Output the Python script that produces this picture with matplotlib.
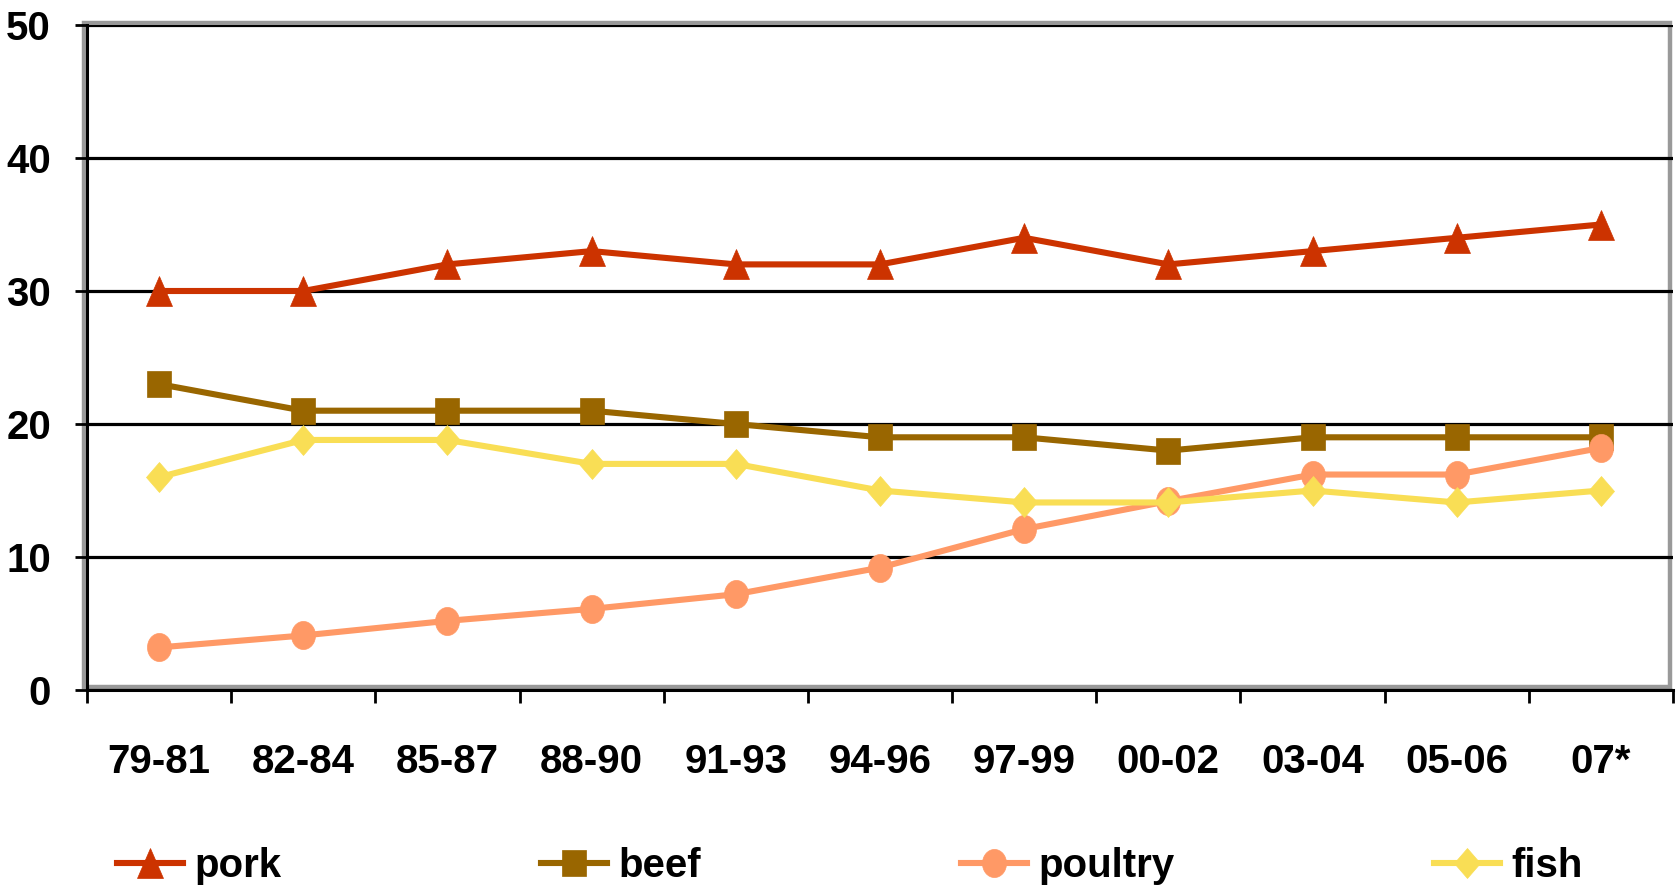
import matplotlib
matplotlib.use("Agg")
import matplotlib.pyplot as plt
from matplotlib.markers import MarkerStyle
from matplotlib.transforms import Affine2D
from matplotlib.patches import Rectangle

# Per-capita consumption by period (kg)
periods = ["79-81", "82-84", "85-87", "88-90", "91-93", "94-96",
           "97-99", "00-02", "03-04", "05-06", "07*"]
pork = [30, 30, 32, 33, 32, 32, 34, 32, 33, 34, 35]
beef = [23, 21, 21, 21, 20, 19, 19, 18, 19, 19, 19]
poultry = [3.2, 4.1, 5.2, 6.1, 7.2, 9.2, 12.1, 14.2, 16.2, 16.2, 18.2]
fish = [16, 18.8, 18.8, 17, 17, 15, 14.1, 14.1, 15, 14.1, 15]
series_names = ["pork", "beef", "poultry", "fish"]
y_ticks = [0, 10, 20, 30, 40, 50]

plt.rcParams["font.family"] = ["Liberation Sans", "DejaVu Sans"]
plt.rcParams["font.weight"] = "bold"
FS = 29

fig = plt.figure(figsize=(16.76, 8.90), dpi=100)
W, H = 1676, 890
ax = fig.add_axes([87 / W, 1 - 690 / H, (1673 - 87) / W, (690 - 25) / H])

x = list(range(len(periods)))


def mk(shape, sy):
    return MarkerStyle(shape, transform=Affine2D().scale(1.0, sy))


styles = [
    (pork, "#CC3300", mk("^", 1.19), 18.7),
    (beef, "#996600", mk("s", 1.12), 17.3),
    (poultry, "#FF9966", mk("o", 1.17), 17.3),
    (fish, "#F9DE55", mk("D", 1.19), 13.2),
]

for (vals, col, m, ms), name in zip(styles, series_names):
    ax.plot(x, vals, color=col, lw=4.4, marker=m, markersize=ms,
            markerfacecolor=col, markeredgecolor=col, markeredgewidth=0.5,
            label=name, zorder=3, clip_on=False)

ax.set_xlim(-0.5, 10.5)
ax.set_ylim(0, 50)
ax.set_yticks(y_ticks)
ax.set_yticklabels([str(v) for v in y_ticks], fontsize=FS, fontweight="bold")
ax.set_xticks(x)
ax.set_xticklabels(periods, fontsize=FS, fontweight="bold")
ax.set_xticks([i - 0.5 for i in range(len(periods) + 1)] + x, minor=True)
ax.tick_params(axis="x", which="major", length=0, pad=38)
ax.tick_params(axis="x", which="minor", length=9, width=2, color="black",
               direction="out")
ax.tick_params(axis="y", which="major", length=9, width=2, color="black",
               direction="out", pad=17)

ax.set_axisbelow(True)
ax.yaxis.grid(True, color="black", lw=2.3, zorder=1)
ax.xaxis.grid(False)

# plot-area frame: grey border with black value/category axes
for s in ("top", "right"):
    ax.spines[s].set_visible(False)
ax.add_patch(Rectangle((-0.002, 0.004), 1.0, 0.999, transform=ax.transAxes,
                       fill=False, edgecolor="#999999", lw=3.2,
                       clip_on=False, zorder=0.5))
ax.spines["left"].set_color("black")
ax.spines["left"].set_linewidth(2.2)
ax.spines["bottom"].set_color("black")
ax.spines["bottom"].set_linewidth(2.2)
ax.spines["left"].set_zorder(2)
ax.spines["bottom"].set_zorder(2)

fig.legend(loc="center left", bbox_to_anchor=(117 / W, 1 - 866 / H),
           ncol=4, frameon=False, prop={"weight": "bold", "size": FS},
           handlelength=1.64, handletextpad=0.28, columnspacing=6.45,
           borderpad=0, borderaxespad=0, numpoints=1)

fig.savefig("out.png", dpi=100, facecolor="white")
